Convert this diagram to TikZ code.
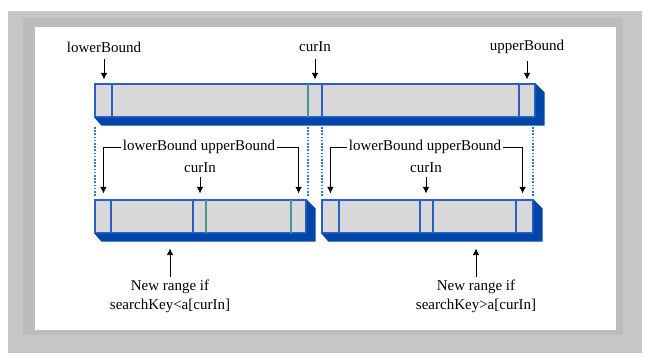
\documentclass[tikz,border=0pt]{standalone}
\usepackage{fontspec}
\setmainfont{Liberation Serif}
\usetikzlibrary{arrows.meta}

\definecolor{framegray}{RGB}{198,198,198}
\definecolor{bandgray}{RGB}{188,188,188}
\definecolor{barfill}{RGB}{216,216,216}
\definecolor{lineblue}{RGB}{40,96,200}
\definecolor{shadeblue}{RGB}{0,70,168}
\definecolor{tealline}{RGB}{70,150,145}
\definecolor{dotblue}{RGB}{50,115,205}

\begin{document}
\begin{tikzpicture}[x=1pt,y=-1pt,
      every node/.style = {font=\fontsize{15}{19}\selectfont, inner sep=0pt},
      lbl/.style = {align=center},
      barface/.style = {draw=lineblue, line width=1.2pt, fill=barfill,
        minimum height=33pt},
      shade/.style = {fill=shadeblue},
      divblue/.style = {draw=lineblue, line width=1.2pt},
      divteal/.style = {draw=tealline, line width=1.2pt},
      ptr/.style = {-{Latex[length=6.5pt,width=6.5pt]}, line width=0.7pt},
      guide/.style = {draw=dotblue, line width=1.4pt,
        dash pattern=on 1.6pt off 1.6pt}]
  \useasboundingbox (0,0) rectangle (648,358);
  \fill[framegray] (8,11) rectangle (642,353);
  \fill[bandgray] (23,18) rectangle (623,335);
  \fill[white] (35,27) rectangle (616,330);

  % the array and the two halves
  \node[barface, minimum width=440pt] (whole) at (315,100.5) {};
  \node[barface, minimum width=211pt] (lowhalf) at (200.5,216.5) {};
  \node[barface, minimum width=211pt] (highhalf) at (427.5,216.5) {};
  \foreach \b in {whole,lowhalf,highhalf}
    \fill[shade] (\b.south west) -- ++(7,8) -- ([shift={(9,8)}]\b.south east)
      -- ([shift={(9,9)}]\b.north east) -- (\b.north east) -- (\b.south east) -- cycle;

  \foreach \x/\s in {112/divblue, 308/divteal, 322/divblue, 519/divblue}
    \draw[\s] (\x,84) -- (\x,117);
  \foreach \x/\s in {111/divblue, 193/divblue, 206/divteal, 291/divteal}
    \draw[\s] (\x,200) -- (\x,233);
  \foreach \x/\s in {339/divblue, 420/divblue, 433/divblue, 516/divblue}
    \draw[\s] (\x,200) -- (\x,233);

  \foreach \x in {95,308,322,533}
    \draw[guide] (\x,127) -- (\x,197);

  % pointers into the whole array
  \node (lo) at (104,47) {lowerBound};
  \node (cur) at (315,47) {curIn};
  \node (hi) at (527,47) {upperBound};
  \foreach \n in {lo,cur,hi}
    \draw[ptr, shorten <=7pt, shorten >=4pt] (\n.south) -- (\n.south |- whole.north);

  % pointers into the halves
  \node (bounds1) at (199,147) {lowerBound upperBound};
  \node (cur1) at (200,168) {curIn};
  \draw[ptr, shorten <=2pt, shorten >=6pt] (bounds1.west) -| ([xshift=9pt]lowhalf.north west);
  \draw[ptr, shorten <=2pt, shorten >=6pt] (bounds1.east) -| ([xshift=-8pt]lowhalf.north east);
  \draw[ptr, shorten <=4pt, shorten >=6pt] (cur1.south) -- (cur1.south |- lowhalf.north);

  \node (bounds2) at (425,147) {lowerBound upperBound};
  \node (cur2) at (426,168) {curIn};
  \draw[ptr, shorten <=2pt, shorten >=6pt] (bounds2.west) -| ([xshift=9pt]highhalf.north west);
  \draw[ptr, shorten <=2pt, shorten >=6pt] (bounds2.east) -| ([xshift=-11pt]highhalf.north east);
  \draw[ptr, shorten <=4pt, shorten >=6pt] (cur2.south) -- (cur2.south |- highhalf.north);

  % captions
  \node[lbl] (newlow) at (170,296) {New range if\\searchKey<a[curIn]};
  \node[lbl] (newhigh) at (476,296) {New range if\\searchKey>a[curIn]};
  \draw[ptr, shorten <=2pt, shorten >=15pt] (newlow.north) -- (newlow.north |- lowhalf.south);
  \draw[ptr, shorten <=2pt, shorten >=15pt] (newhigh.north) -- (newhigh.north |- highhalf.south);
\end{tikzpicture}
\end{document}
